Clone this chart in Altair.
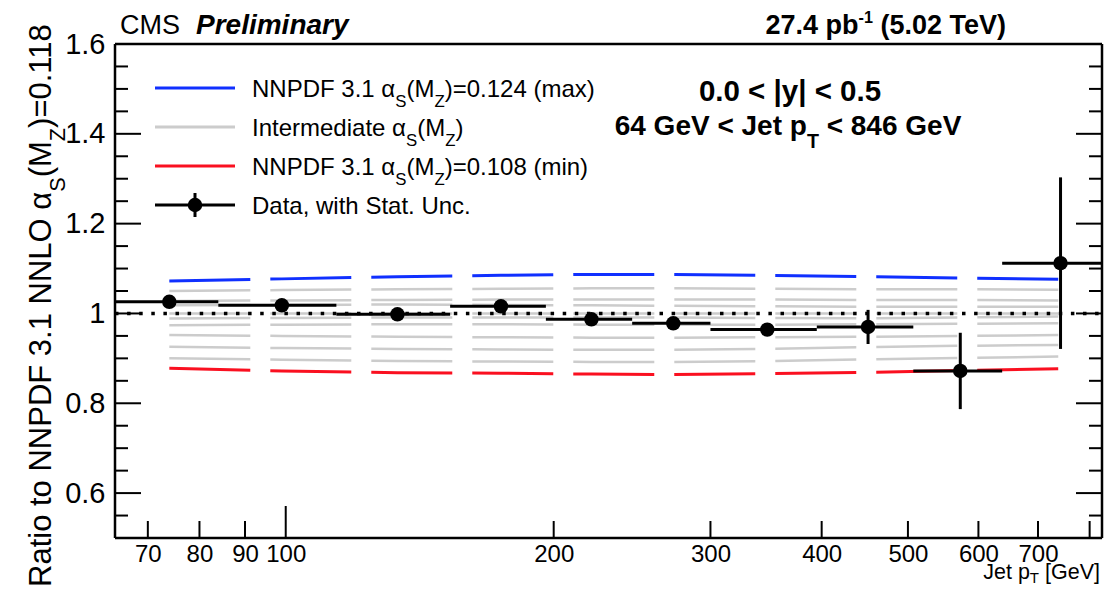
import altair as alt
import pandas as pd

# ------------------------------------------------------------------ data
bin_lo = [64, 84, 114, 153, 196, 245, 300, 395, 507, 638]
bin_hi = [84, 114, 153, 196, 245, 300, 395, 507, 638, 846]
pt_center = [74, 99, 133.5, 174.5, 220.5, 272.5, 347.5, 451, 572.5, 742]
data_ratio = [1.026, 1.018, 0.998, 1.016, 0.987, 0.978, 0.964, 0.970, 0.872, 1.112]
stat_unc = [0.004, 0.004, 0.005, 0.006, 0.007, 0.008, 0.010, 0.038, 0.085, 0.191]

theory_max_0124 = [1.072, 1.077, 1.082, 1.085, 1.087, 1.087, 1.085, 1.082, 1.079, 1.076]
theory_min_0108 = [0.878, 0.872, 0.868, 0.867, 0.865, 0.864, 0.866, 0.869, 0.873, 0.877]
mid_0122 = [1.050, 1.052, 1.054, 1.055, 1.056, 1.056, 1.055, 1.054, 1.054, 1.053]
mid_0120 = [1.028, 1.029, 1.030, 1.031, 1.031, 1.031, 1.031, 1.030, 1.030, 1.029]
mid_0119 = [1.018, 1.019, 1.020, 1.019, 1.018, 1.017, 1.016, 1.015, 1.015, 1.015]
mid_0118 = [1.000, 1.000, 1.000, 1.000, 1.000, 1.000, 1.000, 1.000, 1.000, 1.000]
mid_0117 = [0.989, 0.990, 0.991, 0.991, 0.991, 0.991, 0.990, 0.989, 0.991, 0.993]
mid_0116 = [0.974, 0.975, 0.976, 0.976, 0.975, 0.975, 0.975, 0.976, 0.977, 0.978]
mid_0114 = [0.952, 0.950, 0.948, 0.947, 0.946, 0.946, 0.947, 0.948, 0.950, 0.952]
mid_0112 = [0.926, 0.923, 0.921, 0.920, 0.919, 0.919, 0.921, 0.925, 0.928, 0.930]
mid_0110 = [0.900, 0.897, 0.894, 0.893, 0.892, 0.892, 0.894, 0.898, 0.901, 0.904]

x_label_values = [70, 80, 90, 100, 200, 300, 400, 500, 600, 700]
x_major_ticks = [100]
x_minor_ticks = [70, 80, 90, 200, 300, 400, 500, 600, 700, 800]
y_label_values = [0.6, 0.8, 1.0, 1.2, 1.4, 1.6]
y_major_ticks = [0.6, 0.8, 1.0, 1.2, 1.4]
y_minor_ticks = [0.55, 0.65, 0.7, 0.75, 0.85, 0.9, 0.95, 1.05, 1.1, 1.15,
                 1.25, 1.3, 1.35, 1.45, 1.5, 1.55]

# ------------------------------------------------------------------ layout / style
W, H = 987, 494
FONT = "Liberation Sans"
BLUE = "#1030ff"
RED = "#fa1020"
GRAY = "#cccccc"

xs = alt.Scale(type="log", domain=[64.3, 826], nice=False, zero=False)
ys = alt.Scale(domain=[0.5, 1.6], nice=False, zero=False)
xaxis = alt.Axis(values=x_label_values, ticks=False, domain=False, grid=False, title=None,
                 labelFont=FONT, labelFontSize=24, labelColor="black", labelPadding=4,
                 format="d", labelFlush=False, labelOverlap=False)
yaxis = alt.Axis(values=y_label_values, ticks=False, domain=False, grid=False, title=None,
                 labelFont=FONT, labelFontSize=29, labelColor="black", labelPadding=10,
                 format="~g", labelOverlap=False)


def X(f):
    return alt.X(f, type="quantitative", scale=xs, axis=xaxis)


def Y(f):
    return alt.Y(f, type="quantitative", scale=ys, axis=yaxis)


# theory curves
def long(curves):
    rows = []
    for name, vals in curves:
        for p, v in zip(pt_center, vals):
            rows.append({"pt": p, "ratio": v, "curve": name})
    return pd.DataFrame(rows)


gray_df = long([("0.122", mid_0122), ("0.120", mid_0120), ("0.119", mid_0119),
                ("0.118", mid_0118), ("0.117", mid_0117), ("0.116", mid_0116),
                ("0.114", mid_0114), ("0.112", mid_0112), ("0.110", mid_0110)])
blue_df = long([("0.124", theory_max_0124)])
red_df = long([("0.108", theory_min_0108)])

dash = dict(strokeDash=[81, 20], strokeCap="butt")
gray_l = alt.Chart(gray_df).mark_line(color=GRAY, strokeWidth=2.5, **dash).encode(
    x=X("pt"), y=Y("ratio"), detail="curve:N")
blue_l = alt.Chart(blue_df).mark_line(color=BLUE, strokeWidth=3, **dash).encode(
    x=X("pt"), y=Y("ratio"))
red_l = alt.Chart(red_df).mark_line(color=RED, strokeWidth=3, **dash).encode(
    x=X("pt"), y=Y("ratio"))

one = pd.DataFrame({"v": [1.0]})
unity = alt.Chart(one).mark_rule(color="black", strokeWidth=3.5, strokeDash=[3.5, 8.6]).encode(
    y=Y("v"), x=alt.value(0), x2=alt.value(W))

# data
data_df = pd.DataFrame({"lo": bin_lo, "hi": bin_hi, "pt": pt_center, "ratio": data_ratio,
                        "elo": [r - e for r, e in zip(data_ratio, stat_unc)],
                        "ehi": [r + e for r, e in zip(data_ratio, stat_unc)]})
dbar_h = alt.Chart(data_df).mark_rule(color="black", strokeWidth=3, clip=True).encode(
    x=X("lo"), x2="hi", y=Y("ratio"))
dbar_v = alt.Chart(data_df).mark_rule(color="black", strokeWidth=3).encode(
    x=X("pt"), y=Y("elo"), y2="ehi")
dpts = alt.Chart(data_df).mark_point(filled=True, shape="circle", size=210, color="black",
                                     opacity=1).encode(x=X("pt"), y=Y("ratio"))


# frame ticks (inside, ROOT style)
def yticks(vals, length):
    df = pd.DataFrame({"v": vals})
    left = alt.Chart(df).mark_rule(color="black", strokeWidth=2).encode(
        y=Y("v"), x=alt.value(0), x2=alt.value(length))
    right = alt.Chart(df).mark_rule(color="black", strokeWidth=2).encode(
        y=Y("v"), x=alt.value(W), x2=alt.value(W - length))
    return [left, right]


def xticks(vals, length):
    df = pd.DataFrame({"v": vals})
    return [alt.Chart(df).mark_rule(color="black", strokeWidth=2).encode(
        x=X("v"), y=alt.value(H), y2=alt.value(H - length))]


tick_layers = (yticks(y_major_ticks, 26) + yticks(y_minor_ticks, 13)
               + xticks(x_major_ticks, 32) + xticks(x_minor_ticks, 17))

# frame box
frame = [
    alt.Chart(one).mark_rule(color="black", strokeWidth=2.5).encode(
        x=alt.value(0), x2=alt.value(W), y=alt.value(0)),
    alt.Chart(one).mark_rule(color="black", strokeWidth=2.5).encode(
        x=alt.value(0), x2=alt.value(W), y=alt.value(H)),
    alt.Chart(one).mark_rule(color="black", strokeWidth=2.5).encode(
        x=alt.value(0), y=alt.value(0), y2=alt.value(H)),
    alt.Chart(one).mark_rule(color="black", strokeWidth=2.5).encode(
        x=alt.value(W), y=alt.value(0), y2=alt.value(H)),
]

# ------------------------------------------------------------------ rich text helper
REG = {' ': 278, '(': 333, ')': 333, ',': 278, '-': 333, '.': 278, '<': 584, '=': 584,
       '[': 278, ']': 278, '|': 260, 'α': 578,
       'A': 667, 'C': 722, 'D': 722, 'F': 611, 'G': 778, 'I': 278, 'J': 500, 'L': 556,
       'M': 833, 'N': 722, 'O': 778, 'P': 667, 'R': 722, 'S': 667, 'T': 611, 'U': 722,
       'V': 667, 'Z': 611,
       'a': 556, 'b': 556, 'c': 500, 'd': 556, 'e': 556, 'f': 278, 'h': 556, 'i': 222,
       'l': 222, 'm': 833, 'n': 556, 'o': 556, 'p': 556, 'r': 333, 's': 500, 't': 278,
       'u': 556, 'v': 500, 'w': 722, 'x': 500, 'y': 500}
BOLD = {' ': 278, '(': 333, ')': 333, '-': 333, '.': 278, '<': 584, '|': 280,
        'C': 722, 'G': 778, 'J': 556, 'M': 833, 'P': 667, 'S': 667, 'T': 611, 'V': 667,
        'a': 556, 'b': 611, 'e': 556, 'i': 278, 'l': 278, 'm': 889, 'n': 611, 'p': 611,
        'r': 389, 't': 333, 'y': 556}
SUB_SIZE, SUP_SIZE, SUP_RISE = 0.7, 0.6, 0.42


def text_w(s, size, bold):
    tab = BOLD if bold else REG
    return sum(tab.get(c, 556) for c in s) * size / 1000.0


def rich(pieces, x, y, size, bold=False, italic=False, angle=0, align="left", drop=0.45):
    items = []
    for t, role in pieces:
        sz = size * (SUB_SIZE if role == "sub" else SUP_SIZE if role == "sup" else 1.0)
        items.append((t, role, sz, text_w(t, sz, bold)))
    total = sum(i[3] for i in items)
    start = {"left": 0, "center": -total / 2, "right": -total}[align]
    pos = start
    out = []
    for t, role, sz, w in items:
        shift = size * drop if role == "sub" else -size * SUP_RISE if role == "sup" else 0
        stripped = t.lstrip(" ")
        lead = text_w(t[:len(t) - len(stripped)], sz, bold)
        if angle == 0:
            px, py = x + pos + lead, y + shift
        else:  # 270: text reads upward, "down" points to +x
            px, py = x + shift, y - pos - lead
        out.append(alt.Chart(one).mark_text(
            align="left", baseline="alphabetic", angle=angle, font=FONT, fontSize=sz,
            fontWeight="bold" if bold else "normal",
            fontStyle="italic" if italic else "normal", color="black").encode(
            x=alt.value(px), y=alt.value(py), text=alt.value(stripped)))
        pos += w
    return out


texts = []
# y axis title
texts += rich([("Ratio to NNPDF 3.1 NNLO ", "n"), ("α", "n"), ("S", "sub"), ("(M", "n"),
               ("Z", "sub"), (")=0.118", "n")], -64, 543, 31, angle=270)
# x axis title
texts += rich([("Jet p", "n"), ("T", "sub"), (" [GeV]", "n")], W - 2, 535, 21.5,
              align="right", drop=0.2)
# header
texts += rich([("CMS", "n")], 5, -10, 27)
texts += rich([("Preliminary", "n")], 81, -10, 28, bold=True, italic=True)
texts += rich([("27.4 pb", "n"), ("-1", "sup"), (" (5.02 TeV)", "n")], 893, -10, 27,
              bold=True, align="right")
# inside labels
texts += rich([("0.0 < |y| < 0.5", "n")], 675, 57, 29.5, bold=True, align="center")
texts += rich([("64 GeV < Jet p", "n"), ("T", "sub"), (" < 846 GeV", "n")], 673, 91, 28,
              bold=True, align="center")

# legend
LX0, LX1, TX = 40, 120, 137
leg_rows = [44, 83, 122, 161]
legend = []
for yy, col in zip(leg_rows[:3], [BLUE, GRAY, RED]):
    legend.append(alt.Chart(one).mark_rule(color=col, strokeWidth=3).encode(
        x=alt.value(LX0), x2=alt.value(LX1), y=alt.value(yy)))
legend.append(alt.Chart(one).mark_rule(color="black", strokeWidth=3).encode(
    x=alt.value(LX0), x2=alt.value(LX1), y=alt.value(leg_rows[3])))
legend.append(alt.Chart(one).mark_rule(color="black", strokeWidth=3).encode(
    x=alt.value((LX0 + LX1) / 2), y=alt.value(leg_rows[3] - 12), y2=alt.value(leg_rows[3] + 12)))
legend.append(alt.Chart(one).mark_point(filled=True, shape="circle", size=210, color="black",
                                        opacity=1).encode(
    x=alt.value((LX0 + LX1) / 2), y=alt.value(leg_rows[3])))
LS = 24
off = 8.5
legend += rich([("NNPDF 3.1 ", "n"), ("α", "n"), ("S", "sub"), ("(M", "n"), ("Z", "sub"),
                (")=0.124 (max)", "n")], TX, leg_rows[0] + off, LS)
legend += rich([("Intermediate ", "n"), ("α", "n"), ("S", "sub"), ("(M", "n"), ("Z", "sub"),
                (")", "n")], TX, leg_rows[1] + off, LS)
legend += rich([("NNPDF 3.1 ", "n"), ("α", "n"), ("S", "sub"), ("(M", "n"), ("Z", "sub"),
                (")=0.108 (min)", "n")], TX, leg_rows[2] + off, LS)
legend += rich([("Data, with Stat. Unc.", "n")], TX, leg_rows[3] + off, LS)

layers = ([gray_l, blue_l, red_l, unity] + tick_layers + [dbar_h, dbar_v, dpts]
          + frame + legend + texts)

chart = alt.layer(*layers).properties(
    width=W, height=H,
    autosize=alt.AutoSizeParams(type="none"),
    padding={"left": 107, "top": 36, "right": 2, "bottom": 49},
).configure_view(strokeWidth=0).configure(background="white")

chart.save("out.html", embed_options={"renderer": "svg", "actions": False})
